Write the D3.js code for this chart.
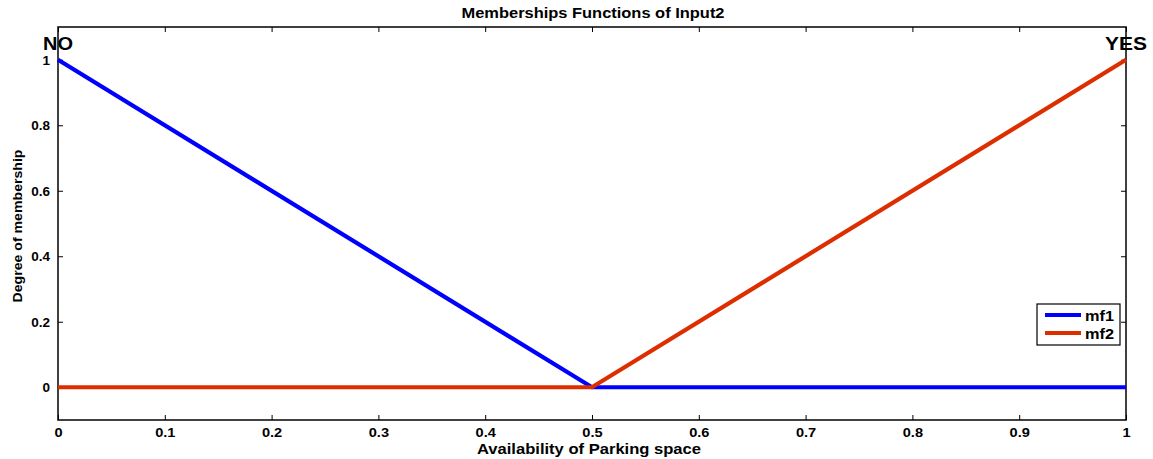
<!DOCTYPE html>
<html><head><meta charset="utf-8">
<script src="https://cdn.jsdelivr.net/npm/d3@7"></script>
<style>
body{margin:0;background:#fff;}
text{font-family:"Liberation Sans",Arial,sans-serif;font-weight:bold;fill:#000;}
</style></head>
<body><svg id="c" width="1153" height="459"></svg>
<script>
const xValues = [0, 0.5, 1];
const mf1 = [1, 0, 0];
const mf2 = [0, 0, 1];
const seriesNames = ["mf1", "mf2"];
const seriesColors = ["#0000ff", "#dd2e00"];
const xTicks = [0,0.1,0.2,0.3,0.4,0.5,0.6,0.7,0.8,0.9,1];
const yTicks = [0,0.2,0.4,0.6,0.8,1];
const labelsTop = ["NO","YES"];

const svg = d3.select("#c");
const L=58,R=1126,T=27,B=420;
const x = d3.scaleLinear().domain([0,1]).range([L,R]);
const y = d3.scaleLinear().domain([-0.1,1.1]).range([B,T]);
const fmt = d => d3.format("~g")(d);

svg.append("g").attr("transform",`translate(0,${B})`)
  .call(d3.axisBottom(x).tickValues(xTicks).tickSizeInner(-5).tickSizeOuter(0).tickPadding(7).tickFormat(fmt))
  .call(g=>{g.select(".domain").remove();g.selectAll("text").style("font-size","13.5px").attr("transform","scale(1.08,1)");});
svg.append("g").attr("transform",`translate(0,${T})`)
  .call(d3.axisTop(x).tickValues(xTicks).tickSizeInner(-5).tickSizeOuter(0).tickFormat(""))
  .call(g=>g.select(".domain").remove());
svg.append("g").attr("transform",`translate(${L},0)`)
  .call(d3.axisLeft(y).tickValues(yTicks).tickSizeInner(-5).tickSizeOuter(0).tickPadding(8).tickFormat(fmt))
  .call(g=>{g.select(".domain").remove();g.selectAll("text").style("font-size","13.5px");});
svg.append("g").attr("transform",`translate(${R},0)`)
  .call(d3.axisRight(y).tickValues(yTicks).tickSizeInner(-5).tickSizeOuter(0).tickFormat(""))
  .call(g=>g.select(".domain").remove());
svg.selectAll(".tick line").attr("stroke","#000");
// fix bottom labels: scale around their own x
svg.selectAll("g").filter(function(){return true;});
svg.append("rect").attr("x",L).attr("y",T).attr("width",R-L).attr("height",B-T)
  .attr("fill","none").attr("stroke","#000").attr("stroke-width",1.5);

const line = d3.line().x(d=>x(d[0])).y(d=>y(d[1]));
[mf1,mf2].forEach((s,i)=>{
  svg.append("path").datum(xValues.map((v,j)=>[v,s[j]]))
    .attr("d",line).attr("fill","none").attr("stroke",seriesColors[i]).attr("stroke-width",4.2);
});

function stretched(xc, yb, size, len, txt){
  return svg.append("text").attr("x",xc).attr("y",yb).attr("text-anchor","middle")
    .style("font-size",size+"px").attr("textLength",len).attr("lengthAdjust","spacingAndGlyphs").text(txt);
}
stretched(x(0), 50, 19, 30, labelsTop[0]);
stretched(x(1), 50, 19, 42, labelsTop[1]);
stretched((L+R)/2+1, 18, 15, 263, "Memberships Functions of Input2");
stretched(589, 454, 15, 224, "Availability of Parking space");
svg.append("text").attr("transform",`translate(22,${226}) rotate(-90)`).attr("text-anchor","middle")
  .style("font-size","13px").attr("textLength",153).attr("lengthAdjust","spacingAndGlyphs").text("Degree of membership");

const lg = svg.append("g");
lg.append("rect").attr("x",1037).attr("y",304).attr("width",83).attr("height",41).attr("fill","#fff").attr("stroke","#000").attr("stroke-width",1.2);
seriesNames.forEach((n,i)=>{
  const yy = 315 + i*18;
  lg.append("line").attr("x1",1045).attr("x2",1081).attr("y1",yy).attr("y2",yy).attr("stroke",seriesColors[i]).attr("stroke-width",4);
  lg.append("text").attr("x",1085).attr("y",yy+6).style("font-size","14.5px").attr("textLength",29).attr("lengthAdjust","spacingAndGlyphs").text(n);
});
</script></body></html>
